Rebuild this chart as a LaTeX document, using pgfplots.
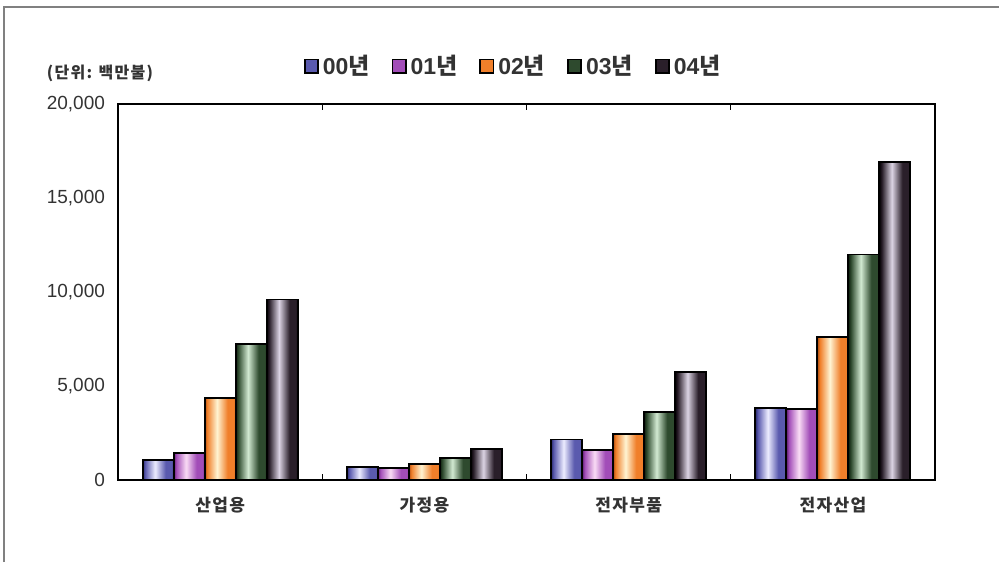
\documentclass[border=0pt]{standalone}
\usepackage{fontspec}
\setmainfont{Liberation Sans}
\newfontfamily\kr{Noto Sans CJK KR}
\newfontfamily\krs{Noto Sans CJK KR}[LetterSpace=8]
\usepackage{pgfplots}
\usepackage{pgfplotstable}
\pgfplotsset{compat=1.18}

% bar colours: base, dark edge, highlight
\definecolor{c0}{HTML}{5A5AAE}\definecolor{c0d}{HTML}{2A2A70}\definecolor{c0l}{HTML}{ECECFF}
\definecolor{c1}{HTML}{A24DB8}\definecolor{c1d}{HTML}{5E1E6E}\definecolor{c1l}{HTML}{FADCF5}
\definecolor{c2}{HTML}{F07F2A}\definecolor{c2d}{HTML}{B04E10}\definecolor{c2l}{HTML}{FFF4D2}
\definecolor{c3}{HTML}{2E4A2E}\definecolor{c3d}{HTML}{0E1E0E}\definecolor{c3l}{HTML}{D2EAD2}
\definecolor{c4}{HTML}{2A1F2A}\definecolor{c4d}{HTML}{050005}\definecolor{c4l}{HTML}{DCD4E4}
\definecolor{txt}{HTML}{333333}

\newcommand\cyl[4]{\pgfdeclarehorizontalshading{#1}{100bp}{color(0bp)=(#2); color(25bp)=(#2); color(29bp)=(#3); color(45bp)=(#4); color(62bp)=(#3); color(72bp)=(#3); color(75bp)=(#2); color(100bp)=(#2)}}
\cyl{sh0}{c0d}{c0}{c0l}
\cyl{sh1}{c1d}{c1}{c1l}
\cyl{sh2}{c2d}{c2}{c2l}
\cyl{sh3}{c3d}{c3}{c3l}
\cyl{sh4}{c4d}{c4}{c4l}

\pgfplotstableread{
x y00 y01 y02 y03 y04
0 1050 1450 4350 7250 9600
1 680 620 850 1170 1650
2 2150 1600 2430 3630 5730
3 3850 3760 7590 12000 16900
}\data

\newcommand\legbox[1]{\draw[fill=#1, draw=black, line width=0.9pt] (0pt,-3.3pt) rectangle (6.6pt,3.3pt);}
\newcommand\yr[1]{\bfseries#1{\kr\bfseries 년}}

\begin{document}
\begin{tikzpicture}
\path[use as bounding box] (0,0) rectangle (499.5pt,281pt);
\draw[gray, line width=0.9pt] (2pt,0) -- (2pt,277.5pt) -- (499.5pt,277.5pt);
\node[text=txt, font=\krs\bfseries\fontsize{8}{9}\selectfont] at (50pt,244.5pt) {(단위: 백만불)};
\begin{axis}[
    at={(59pt,41pt)}, anchor=south west,
    scale only axis, width=408.5pt, height=188pt,
    ybar=0pt, bar width=15.5pt,
    xmin=-0.5, xmax=3.5, ymin=0, ymax=20000,
    xtick={0.5,1.5,2.5}, xticklabels={},
    extra x ticks={0,1,2,3},
    extra x tick labels={산업용,가정용,전자부품,전자산업},
    extra x tick style={xtick style={draw=none}},
    tick align=inside, major tick length=3pt,
    xtick style={black, line width=0.6pt},
    ytick={0,5000,10000,15000,20000}, ytick style={draw=none},
    axis line style={line width=1.2pt},
    scaled y ticks=false,
    yticklabel style={text=txt, font=\fontsize{9.5}{11}\selectfont, xshift=-3pt,
        /pgf/number format/.cd, 1000 sep={,}, assume math mode=true},
    xticklabel style={text=txt, font=\krs\bfseries\fontsize{8.5}{10}\selectfont, yshift=-5pt},
    legend columns=5,
    legend style={draw=none, fill=none, at={(0.485,1.101)}, anchor=center,
        text=txt, font=\fontsize{11.5}{14}\selectfont,
        /tikz/every even column/.append style={column sep=9pt}},
    every axis plot/.append style={draw=black, line width=0.9pt},
]
% one path per bar, so that each bar gets its own cylinder shading
\pgfplotsinvokeforeach{0,1,2,3}{
  \addplot[shading=sh0, bar shift=-31pt, forget plot] table[x=x, y=y00, restrict expr to domain={\coordindex}{#1:#1}] {\data};
  \addplot[shading=sh1, bar shift=-15.5pt, forget plot] table[x=x, y=y01, restrict expr to domain={\coordindex}{#1:#1}] {\data};
  \addplot[shading=sh2, bar shift=0pt, forget plot] table[x=x, y=y02, restrict expr to domain={\coordindex}{#1:#1}] {\data};
  \addplot[shading=sh3, bar shift=15.5pt, forget plot] table[x=x, y=y03, restrict expr to domain={\coordindex}{#1:#1}] {\data};
  \addplot[shading=sh4, bar shift=31pt, forget plot] table[x=x, y=y04, restrict expr to domain={\coordindex}{#1:#1}] {\data};
}
\addlegendimage{legend image code/.code={\legbox{c0}}}\addlegendentry{\yr{00}}
\addlegendimage{legend image code/.code={\legbox{c1}}}\addlegendentry{\yr{01}}
\addlegendimage{legend image code/.code={\legbox{c2}}}\addlegendentry{\yr{02}}
\addlegendimage{legend image code/.code={\legbox{c3}}}\addlegendentry{\yr{03}}
\addlegendimage{legend image code/.code={\legbox{c4}}}\addlegendentry{\yr{04}}
\end{axis}
\end{tikzpicture}
\end{document}
